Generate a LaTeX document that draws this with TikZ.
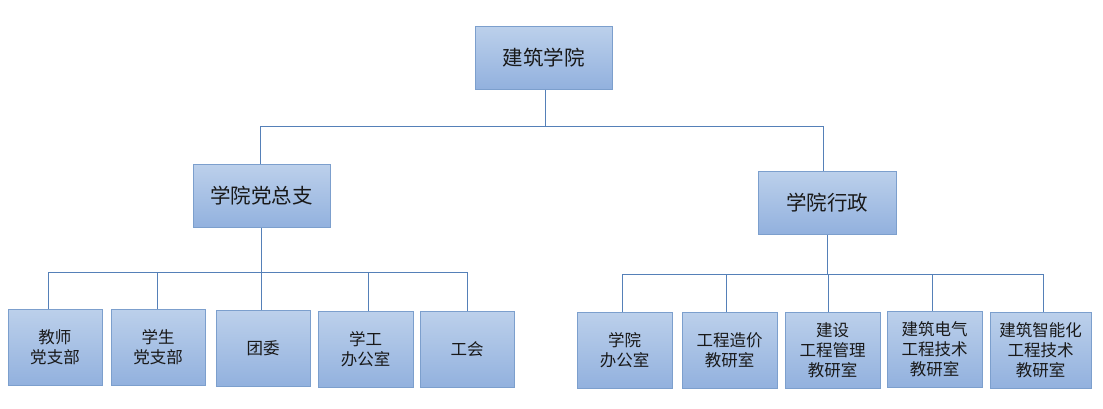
\documentclass[tikz,border=0pt]{standalone}
\usepackage{fontspec}
\setmainfont{Noto Sans CJK SC}
\definecolor{boxtop}{HTML}{BCD0EB}
\definecolor{boxbot}{HTML}{92B1DE}
\definecolor{boxline}{HTML}{7C9FCD}
\definecolor{connline}{HTML}{5580B8}
\tikzset{
  box/.style={draw=boxline, line width=1pt, top color=boxtop, bottom color=boxbot,
    shading angle=0, inner sep=0pt, align=center, text=black!90},
  bigbox/.style={box, minimum width=137pt, minimum height=63pt, font=\fontsize{20.5}{24}\selectfont},
  leaf/.style={box, minimum width=94pt, minimum height=76pt, font=\fontsize{16.5}{20}\selectfont},
  conn/.style={draw=connline, line width=1pt}
}
\begin{document}
\begin{tikzpicture}[x=1pt,y=-1pt]
\useasboundingbox[fill=white] (0,0) rectangle (1103,408);
% top level
\node[bigbox] (root) at (543.5,57.5) {建筑学院};
\node[bigbox] (dzz) at (261.5,196) {学院党总支};
\node[bigbox, minimum width=138pt] (xz) at (827,202.5) {学院行政};
% bus coordinates
\coordinate (tb) at (0,126);
\coordinate (lb) at (0,272);
\coordinate (rb) at (0,274);
% left leaves
\node[leaf] (b1) at (55,347) {教师\\党支部};
\node[leaf] (b2) at (158,347) {学生\\党支部};
\node[leaf] (b3) at (263,348.5) {团委};
\node[leaf, minimum width=95pt] (b4) at (365.5,349.5) {学工\\办公室};
\node[leaf] (b5) at (467,349.5) {工会};
% right leaves
\node[leaf, minimum width=95pt] (c1) at (624.5,350) {学院\\办公室};
\node[leaf, minimum width=95pt] (c2) at (729.5,350) {工程造价\\教研室};
\node[leaf, minimum width=95pt] (c3) at (832.5,350) {建设\\工程管理\\教研室};
\node[leaf, minimum width=95pt] (c4) at (934.5,349) {建筑电气\\工程技术\\教研室};
\node[leaf, minimum width=101pt] (c5) at (1040.5,350) {建筑智能化\\工程技术\\教研室};
% connectors: top
\draw[conn] ([xshift=1.5pt]root.south) -- ([xshift=1.5pt]root.south |- tb);
\draw[conn] ([xshift=-1.5pt]dzz.north) |- ([xshift=-4pt]xz.north |- tb) -- ([xshift=-4pt]xz.north);
% left group
\draw[conn] (dzz.south) -- (dzz.south |- lb);
\draw[conn] ([xshift=-7pt]b1.north) |- (b5.north |- lb) -- (b5.north);
\draw[conn] ([xshift=-1pt]b2.north) -- ([xshift=-1pt]b2.north |- lb);
\draw[conn] ([xshift=-2pt]b3.north) -- ([xshift=-2pt]b3.north |- lb);
\draw[conn] ([xshift=2.5pt]b4.north) -- ([xshift=2.5pt]b4.north |- lb);
% right group
\draw[conn] (xz.south) -- (xz.south |- rb);
\draw[conn] ([xshift=-2.5pt]c1.north) |- ([xshift=2.5pt]c5.north |- rb) -- ([xshift=2.5pt]c5.north);
\draw[conn] ([xshift=-3.5pt]c2.north) -- ([xshift=-3.5pt]c2.north |- rb);
\draw[conn] ([xshift=-4.5pt]c3.north) -- ([xshift=-4.5pt]c3.north |- rb);
\draw[conn] ([xshift=-2.5pt]c4.north) -- ([xshift=-2.5pt]c4.north |- rb);
\end{tikzpicture}
\end{document}
